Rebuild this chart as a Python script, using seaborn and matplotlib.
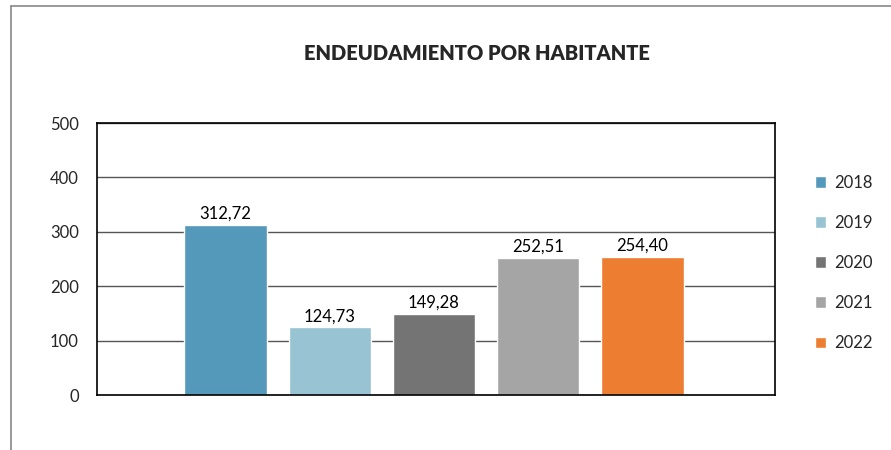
import matplotlib
matplotlib.use("Agg")
import matplotlib.pyplot as plt
from matplotlib.lines import Line2D
import seaborn as sns
import pandas as pd

# datos
years = ["2018", "2019", "2020", "2021", "2022"]
values = [312.72, 124.73, 149.28, 252.51, 254.40]
colors = ["#5599BA", "#97C3D3", "#747474", "#A5A5A5", "#ED7D31"]

df = pd.DataFrame({"grupo": [""] * len(years), "anio": years, "valor": values})

sns.set_style("white")
plt.rcParams["font.family"] = ["Lato", "DejaVu Sans"]

fig = plt.figure(figsize=(8.91, 4.5), dpi=100)
ax = fig.add_axes([97 / 891, 1 - 395 / 450, (775 - 97) / 891, (395 - 123) / 450])

sns.barplot(data=df, x="grupo", y="valor", hue="anio", palette=colors,
            saturation=1, width=0.769, gap=0.21, ax=ax, legend=True)

for cont in ax.containers:
    ax.bar_label(cont, labels=[f"{b.get_height():.2f}".replace(".", ",") for b in cont],
                 padding=2, fontsize=12, color="#000000")

ax.set_xlim(-0.497, 0.503)
ax.set_ylim(0, 500)
ax.set_yticks([0, 100, 200, 300, 400, 500])
ax.set_xlabel("")
ax.set_ylabel("")
ax.set_xticks([])
ax.tick_params(axis="y", length=0, pad=13, labelsize=12)
ax.yaxis.grid(True, color="#555555", linewidth=1)
ax.set_axisbelow(True)
for s in ax.spines.values():
    s.set_visible(True)
    s.set_color("#000000")
    s.set_linewidth(1.2)

fig.text(477 / 891, 1 - 54 / 450, "ENDEUDAMIENTO POR HABITANTE",
         ha="center", va="center", fontsize=14.5, fontweight="heavy")

ax.legend(loc="upper left", bbox_to_anchor=(808 / 891, 1 - 168 / 450),
          bbox_transform=fig.transFigure, frameon=False, fontsize=12,
          handlelength=0.7, handleheight=0.7, handletextpad=0.5,
          labelspacing=1.45, borderaxespad=0)

# marco del gráfico
fig.add_artist(Line2D([11 / 891, 11 / 891], [0, 1 - 6 / 450], color="#888888", linewidth=1.2))
fig.add_artist(Line2D([11 / 891, 1], [1 - 6 / 450, 1 - 6 / 450], color="#888888", linewidth=1.2))

fig.savefig("out.png", dpi=100)
